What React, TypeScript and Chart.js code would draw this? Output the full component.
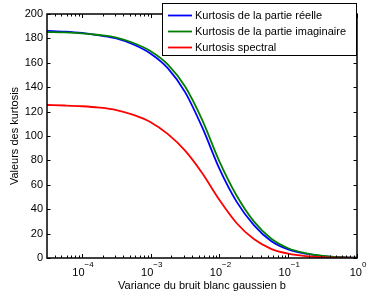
import React, { useEffect, useRef } from 'react';
import { Chart, registerables } from 'chart.js';

Chart.register(...registerables);

// Noise variance (log axis) sample positions
const xValues = [3.1e-5, 5.62e-5, 1e-4, 1.78e-4, 3.16e-4, 5.62e-4, 1e-3, 1.78e-3, 3.16e-3, 5.62e-3, 1e-2, 1.78e-2, 3.16e-2, 5.62e-2, 1e-1, 1.78e-1, 3.16e-1, 5.62e-1, 1];
const kurtReal = [186.2, 185.6, 184.5, 182.5, 180, 175, 167.5, 155.5, 136, 107, 73, 46, 27, 14, 7, 3.5, 1.5, 0.6, 0.2];
const kurtImag = [185.2, 184.9, 184.2, 182.8, 180.7, 176.2, 169.5, 158.5, 140.5, 113, 79, 51, 30, 16, 8, 4, 1.8, 0.7, 0.2];
const kurtSpec = [125.4, 125, 124.4, 123.3, 121.3, 117.3, 111.3, 101.5, 88, 69.5, 47.5, 28.5, 15.5, 7.5, 3.5, 1.5, 0.6, 0.2, 0.1];

const seriesLabels = ['Kurtosis de la partie réelle', 'Kurtosis de la partie imaginaire', 'Kurtosis spectral'];
const seriesColors = ['#0000ff', '#008000', '#ff0000'];
const xDecadeExponents = [-4, -3, -2, -1, 0];
const yTickValues = [0, 20, 40, 60, 80, 100, 120, 140, 160, 180, 200];
const xTitle = 'Variance du bruit blanc gaussien b';
const yTitle = 'Valeurs des kurtosis';

const FONT = '"Liberation Sans", Arial, sans-serif';

const matlabPlugin = {
  id: 'matlabAxes',
  afterDatasetsDraw(chart: any) {
    const { ctx, chartArea: a, scales } = chart;
    const xs = scales.x;
    const ys = scales.y;
    ctx.save();
    ctx.strokeStyle = '#000';
    ctx.lineWidth = 1;
    ctx.beginPath();
    // x ticks (major decades + minor 2..9), top and bottom, inward
    for (let e = -5; e <= 0; e++) {
      for (let m = 1; m <= 9; m++) {
        const v = m * Math.pow(10, e);
        if (v < xs.min * 0.999 || v > xs.max * 1.001) continue;
        const px = Math.round(xs.getPixelForValue(v)) + 0.5;
        const len = m === 1 ? 4 : 2.5;
        ctx.moveTo(px, a.bottom);
        ctx.lineTo(px, a.bottom - len);
        ctx.moveTo(px, a.top);
        ctx.lineTo(px, a.top + len);
      }
    }
    // y ticks left and right, inward
    for (const v of yTickValues) {
      const py = Math.round(ys.getPixelForValue(v)) + 0.5;
      ctx.moveTo(a.left, py);
      ctx.lineTo(a.left + 3.5, py);
      ctx.moveTo(a.right, py);
      ctx.lineTo(a.right - 3.5, py);
    }
    ctx.stroke();
    // box
    ctx.lineWidth = 1.5;
    ctx.strokeRect(a.left, a.top, a.right - a.left, a.bottom - a.top);

    // x tick labels 10^n
    ctx.fillStyle = '#000';
    ctx.textBaseline = 'alphabetic';
    for (const e of xDecadeExponents) {
      const px = xs.getPixelForValue(Math.pow(10, e));
      const base = '10';
      const exp = e < 0 ? '\u2212' + Math.abs(e) : String(e);
      ctx.font = '11px ' + FONT;
      const wb = ctx.measureText(base).width;
      ctx.font = '8px ' + FONT;
      const we = ctx.measureText(exp).width;
      const start = px - (wb + we) / 2 + 1;
      ctx.font = '11px ' + FONT;
      ctx.textAlign = 'left';
      ctx.fillText(base, start, 275.5);
      ctx.font = '8px ' + FONT;
      ctx.fillText(exp, start + wb, 267);
    }

    // axis titles
    ctx.font = '11px ' + FONT;
    ctx.textAlign = 'center';
    ctx.fillText(xTitle, (a.left + a.right) / 2, 288.5);
    ctx.save();
    ctx.translate(18, (a.top + a.bottom) / 2);
    ctx.rotate(-Math.PI / 2);
    ctx.textBaseline = 'alphabetic';
    ctx.fillText(yTitle, 0, 0);
    ctx.restore();

    // legend
    const lx = 162.5, ly = 3.5, lw = 194, lh = 52;
    ctx.fillStyle = '#fff';
    ctx.fillRect(lx, ly, lw, lh);
    ctx.lineWidth = 1;
    ctx.strokeStyle = '#000';
    ctx.strokeRect(lx, ly, lw, lh);
    const rows = [15.5, 31.5, 47.5];
    chart.data.datasets.forEach((ds: any, i: number) => {
      const y = rows[i];
      ctx.strokeStyle = ds.borderColor;
      ctx.lineWidth = 1.8;
      ctx.beginPath();
      ctx.moveTo(168, y);
      ctx.lineTo(192, y);
      ctx.stroke();
      ctx.fillStyle = '#000';
      ctx.font = '11px ' + FONT;
      ctx.textAlign = 'left';
      ctx.textBaseline = 'middle';
      ctx.fillText(ds.label, 195, y);
    });
    ctx.restore();
  },
};

export default function App() {
  const ref = useRef<HTMLCanvasElement | null>(null);
  useEffect(() => {
    if (!ref.current) return;
    const mk = (vals: number[]) => xValues.map((x, i) => ({ x, y: vals[i] }));
    const chart = new Chart(ref.current, {
      type: 'line',
      data: {
        datasets: [
          { label: seriesLabels[0], data: mk(kurtReal), borderColor: seriesColors[0], order: 2 },
          { label: seriesLabels[1], data: mk(kurtImag), borderColor: seriesColors[1], order: 1 },
          { label: seriesLabels[2], data: mk(kurtSpec), borderColor: seriesColors[2], order: 0 },
        ].map((d) => ({
          ...d,
          borderWidth: 1.8,
          pointRadius: 0,
          fill: false,
          cubicInterpolationMode: 'monotone' as const,
        })),
      },
      options: {
        responsive: false,
        animation: false,
        devicePixelRatio: 1,
        layout: { padding: { top: 14, right: 10, left: 0, bottom: 33 } },
        plugins: { legend: { display: false }, tooltip: { enabled: false } },
        scales: {
          x: {
            type: 'logarithmic',
            min: 3.1e-5,
            max: 1,
            display: false,
          },
          y: {
            type: 'linear',
            min: 0,
            max: 200,
            afterFit: (s: any) => {
              s.width = 47;
            },
            afterBuildTicks: (s: any) => {
              s.ticks = yTickValues.map((v) => ({ value: v }));
            },
            grid: { display: false, drawTicks: false },
            border: { display: false },
            ticks: {
              padding: 4,
              color: '#000',
              font: { family: FONT, size: 11 },
            },
          },
        },
      },
      plugins: [matlabPlugin],
    });
    return () => chart.destroy();
  }, []);
  return (
    <div style={{ position: 'fixed', left: 0, top: 0, width: 367, height: 291, background: '#fff' }}>
      <canvas ref={ref} width={367} height={291} />
    </div>
  );
}
